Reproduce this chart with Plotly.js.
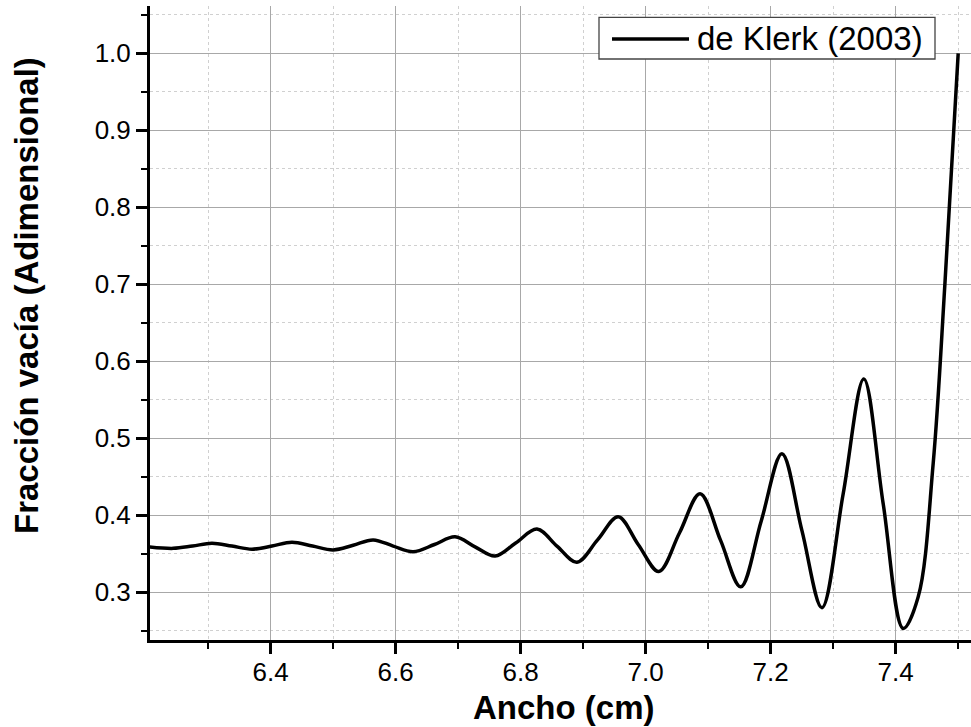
<!DOCTYPE html>
<html>
<head>
<meta charset="utf-8">
<script src="https://cdn.plot.ly/plotly-3.0.1.min.js"></script>
<style>html,body{margin:0;padding:0;background:#fff;}#chart{width:971px;height:727px;}</style>
</head>
<body>
<div id="chart"></div>
<script>
// Data
var seriesName = 'de Klerk (2003)';
var anchoCm = [6.205, 6.244, 6.275, 6.306, 6.338, 6.370, 6.402, 6.434, 6.467, 6.500,
  6.532, 6.564, 6.596, 6.628, 6.662, 6.695, 6.727, 6.759, 6.792, 6.826,
  6.858, 6.890, 6.923, 6.956, 6.988, 7.021, 7.054, 7.087, 7.120, 7.152,
  7.185, 7.218, 7.250, 7.282, 7.316, 7.349, 7.380, 7.412, 7.436, 7.460,
  7.4787, 7.500];
var fraccionVacia = [0.359, 0.357, 0.360, 0.3636, 0.360, 0.356, 0.360, 0.365, 0.360, 0.355,
  0.361, 0.368, 0.360, 0.3527, 0.362, 0.372, 0.359, 0.347, 0.364, 0.382,
  0.360, 0.339, 0.368, 0.398, 0.362, 0.327, 0.377, 0.428, 0.367, 0.307,
  0.393, 0.480, 0.380, 0.280, 0.428, 0.577, 0.415, 0.253, 0.294, 0.4675,
  0.700, 1.000];
var xTitle = 'Ancho (cm)';
var yTitle = 'Fracción vacía (Adimensional)';

var W = 971, H = 727;
var mL = 150, mR = 0, mT = 6, mB = 87;
var pw = W - mL - mR, ph = H - mT - mB;
function px(x){ return (x - mL) / pw; }
function py(y){ return (H - mB - y) / ph; }

var trace = {
  x: anchoCm, y: fraccionVacia, type: 'scatter', mode: 'lines', name: seriesName,
  line: {color: '#000', width: 3.5, shape: 'spline', smoothing: 1}
};

var font = 'Liberation Sans, Arial, sans-serif';
var layout = {
  width: W, height: H,
  margin: {l: mL, r: mR, t: mT, b: mB, pad: 0},
  paper_bgcolor: '#fff', plot_bgcolor: '#fff',
  showlegend: false,
  font: {family: font, color: '#000', size: 26},
  xaxis: {
    range: [6.2069, 7.5205], tick0: 6.4, dtick: 0.2, tickformat: '.1f',
    showline: true, linecolor: '#000', linewidth: 3, mirror: false,
    ticks: 'outside', ticklen: 11, tickwidth: 2.5, tickcolor: '#000',
    ticklabelstandoff: -4,
    showgrid: true, gridcolor: '#a8a8a8', gridwidth: 1.3, zeroline: false,
    tickfont: {size: 26, family: font, color: '#000'},
    minor: {dtick: 0.1, tick0: 6.4, ticks: 'outside', ticklen: 6, tickwidth: 2.5, tickcolor: '#000',
      showgrid: true, gridcolor: '#d0d0d0', griddash: 'dot', gridwidth: 1},
    fixedrange: true
  },
  yaxis: {
    range: [0.238, 1.0614], tick0: 0, dtick: 0.1, tickformat: '.1f',
    showline: true, linecolor: '#000', linewidth: 3, mirror: false,
    ticks: 'outside', ticklen: 11, tickwidth: 2.5, tickcolor: '#000',
    showgrid: true, gridcolor: '#a8a8a8', gridwidth: 1.3, zeroline: false,
    tickfont: {size: 26, family: font, color: '#000'},
    minor: {dtick: 0.05, tick0: 0, ticks: 'outside', ticklen: 6, tickwidth: 2.5, tickcolor: '#000',
      showgrid: true, gridcolor: '#d0d0d0', griddash: 'dot', gridwidth: 1},
    fixedrange: true
  },
  shapes: [
    {type: 'rect', xref: 'paper', yref: 'paper', x0: px(599), x1: px(935), y0: py(59), y1: py(17.3),
      line: {color: '#444', width: 1.3}, fillcolor: '#fff', layer: 'above'},
    {type: 'line', xref: 'paper', yref: 'paper', x0: px(612), x1: px(689), y0: py(39), y1: py(39),
      line: {color: '#000', width: 3.5}, layer: 'above'}
  ],
  annotations: [
    {text: seriesName, xref: 'paper', yref: 'paper', x: px(696), y: py(38.5), xanchor: 'left', yanchor: 'middle',
      showarrow: false, borderpad: 0, font: {size: 33, family: font, color: '#000'}},
    {text: '<b>' + xTitle + '</b>', xref: 'paper', yref: 'paper', x: px(564), y: py(707), xanchor: 'center', yanchor: 'middle',
      showarrow: false, borderpad: 0, font: {size: 33, family: font, color: '#000'}},
    {text: '<b>' + yTitle + '</b>', xref: 'paper', yref: 'paper', x: px(26), y: py(296), xanchor: 'center', yanchor: 'middle',
      textangle: -90, showarrow: false, borderpad: 0, font: {size: 33, family: font, color: '#000'}}
  ]
};

Plotly.newPlot('chart', [trace], layout, {displayModeBar: false, staticPlot: true});
</script>
</body>
</html>
